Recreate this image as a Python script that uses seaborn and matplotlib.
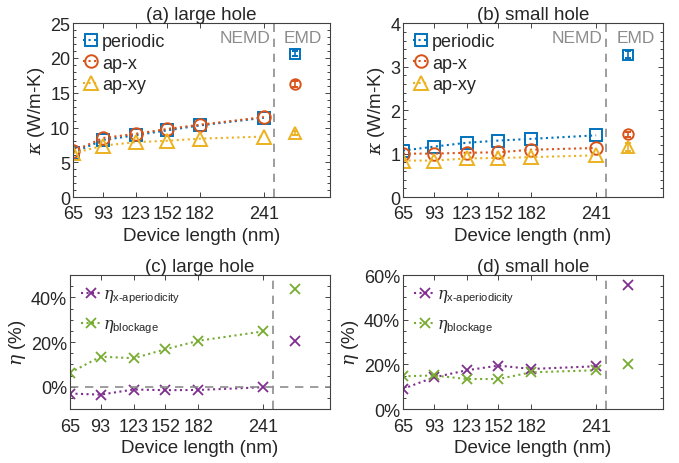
import numpy as np
import pandas as pd
import matplotlib
matplotlib.use('Agg')
import matplotlib.pyplot as plt
import matplotlib.transforms as mtransforms
from matplotlib.ticker import AutoMinorLocator, FuncFormatter
import seaborn as sns

# device lengths (NEMD) and EMD position
lengths = [65, 93, 123, 152, 182, 241]
emd_x = 270

# (a) large hole, kappa (W/m-K)
a_periodic = [6.4, 8.2, 8.9, 9.6, 10.3, 11.4]
a_apx = [6.6, 8.5, 9.1, 9.8, 10.4, 11.5]
a_apxy = [6.3, 7.4, 7.9, 8.1, 8.4, 8.7]
a_emd = [20.6, 16.3, 9.2]
a_emd_err = [0.35, 0.45, 0.3]

# (b) small hole, kappa (W/m-K)
b_periodic = [1.07, 1.16, 1.25, 1.30, 1.34, 1.42]
b_apx = [1.00, 1.00, 1.02, 1.03, 1.09, 1.13]
b_apxy = [0.84, 0.84, 0.89, 0.90, 0.92, 0.96]
b_emd = [3.27, 1.44, 1.15]
b_emd_err = [0.08, 0.05, 0.1]

# (c) large hole, eta (%)
c_xaper = [-3.0, -3.5, -1.2, -1.5, -1.4, -0.2]
c_block = [6.3, 13.5, 12.8, 16.8, 20.6, 24.8]
c_emd = [20.6, 43.6]

# (d) small hole, eta (%)
d_xaper = [9.1, 14.2, 17.4, 19.5, 18.0, 19.2]
d_block = [14.7, 15.1, 13.5, 13.5, 16.5, 17.4]
d_emd = [55.6, 20.0]

kappa_names = ['periodic', 'ap-x', 'ap-xy']
eta_names = [r'$\eta_{\mathrm{x\mathrm{\text{-}}aperiodicity}}$', r'$\eta_{\mathrm{blockage}}$']

blue, orange, yellow = '#0072BD', '#D95319', '#EDB120'
purple, green = '#7E2F8E', '#77AC30'
gray = '#8c8c8c'

sns.set_style('ticks')
plt.rcParams['font.family'] = ['Liberation Sans', 'DejaVu Sans']
plt.rcParams['mathtext.fontset'] = 'custom'
plt.rcParams['mathtext.rm'] = 'Liberation Sans'
plt.rcParams['mathtext.it'] = 'DejaVu Serif:italic'
plt.rcParams['font.size'] = 13

fig = plt.figure(figsize=(6.79, 4.64), dpi=100)
ax_a = fig.add_axes([0.1075, 0.573, 0.3785, 0.375])
ax_b = fig.add_axes([0.5935, 0.573, 0.383, 0.375])
ax_c = fig.add_axes([0.103, 0.116, 0.383, 0.289])
ax_d = fig.add_axes([0.5935, 0.116, 0.383, 0.289])


def style_axes(ax, title, ylim, yticks, minor):
    ax.set_xlim(65, 302)
    ax.set_xticks(lengths)
    ax.set_xticklabels([str(v) for v in lengths])
    ax.set_ylim(*ylim)
    ax.set_yticks(yticks)
    ax.yaxis.set_minor_locator(AutoMinorLocator(minor))
    ax.tick_params(which='both', direction='in', top=True, right=True,
                   labelsize=13, colors='#262626')
    ax.tick_params(axis='x', pad=6)
    ax.tick_params(axis='y', pad=2)
    ax.tick_params(which='major', length=3.5, width=0.6)
    ax.tick_params(which='minor', length=2, width=0.6)
    ax.tick_params(axis='x', which='minor', bottom=False, top=False)
    for s in ax.spines.values():
        s.set_color('#404040')
        s.set_linewidth(0.8)
    ax.set_title(title, fontsize=13.5, pad=3)
    ax.set_xlabel('Device length (nm)', fontsize=13.5, labelpad=3)
    ax.axvline(250, color=gray, ls=(0, (5, 4)), lw=1.2)


def kappa_panel(ax, series, emd, err, title, ylim, yticks, minor):
    markers = ['s', 'o', '^']
    colors = [blue, orange, yellow]
    sizes = [8, 9, 10]
    df = pd.DataFrame({'x': lengths * 3,
                       'y': series[0] + series[1] + series[2],
                       'name': sum([[n] * len(lengths) for n in kappa_names], [])})
    for i, n in enumerate(kappa_names):
        sub = df[df['name'] == n]
        sns.lineplot(data=sub, x='x', y='y', ax=ax, color=colors[i], ls=':', lw=1.5,
                     marker=markers[i], markersize=sizes[i], markerfacecolor='none',
                     markeredgecolor=colors[i], markeredgewidth=1.4, label=n)
        ax.errorbar([emd_x], [emd[i]], yerr=[err[i]], fmt=markers[i], color=colors[i],
                    mfc='none', ms=sizes[i] - 1.5, mew=1.4, capsize=2, elinewidth=1.2)
    style_axes(ax, title, ylim, yticks, minor)
    ax.set_ylabel(r'$\kappa$ (W/m-K)', fontsize=13.5, labelpad=2)
    ax.legend(loc='upper left', frameon=False, handlelength=0.9, handletextpad=0.15,
              labelspacing=0.25, borderaxespad=0.15, fontsize=13)
    tr = mtransforms.blended_transform_factory(ax.transData, ax.transAxes)
    ax.text(247, 0.92, 'NEMD', ha='right', va='center', color=gray, fontsize=12.5, transform=tr)
    ax.text(277, 0.92, 'EMD', ha='center', va='center', color=gray, fontsize=12.5, transform=tr)


def eta_panel(ax, series, emd, title, ylim, yticks, zero_line):
    colors = [purple, green]
    for i, n in enumerate(eta_names):
        sns.lineplot(x=lengths, y=series[i], ax=ax, color=colors[i], ls=':', lw=1.5,
                     marker='x', markersize=7, markeredgecolor=colors[i],
                     markeredgewidth=1.3, label=n)
        ax.plot([emd_x], [emd[i]], 'x', color=colors[i], ms=7.5, mew=1.3)
    if zero_line:
        ax.axhline(0, color=gray, ls=(0, (5, 4)), lw=1.2)
    style_axes(ax, title, ylim, yticks, 4)
    ax.yaxis.set_major_formatter(FuncFormatter(lambda v, p: f'{v:.0f}%'))
    ax.set_ylabel(r'$\eta$ (%)', fontsize=13.5, labelpad=2)
    ax.legend(loc='upper left', frameon=False, handlelength=1.3, handletextpad=0.1,
              labelspacing=0.7, borderaxespad=0.3, fontsize=11.5)


kappa_panel(ax_a, [a_periodic, a_apx, a_apxy], a_emd, a_emd_err, '(a) large hole',
            (0, 25), [0, 5, 10, 15, 20, 25], 5)
kappa_panel(ax_b, [b_periodic, b_apx, b_apxy], b_emd, b_emd_err, '(b) small hole',
            (0, 4), [0, 1, 2, 3, 4], 5)
eta_panel(ax_c, [c_xaper, c_block], c_emd, '(c) large hole', (-10, 50), [0, 20, 40], True)
eta_panel(ax_d, [d_xaper, d_block], d_emd, '(d) small hole', (0, 60), [0, 20, 40, 60], False)

fig.savefig('out.png', dpi=100)
